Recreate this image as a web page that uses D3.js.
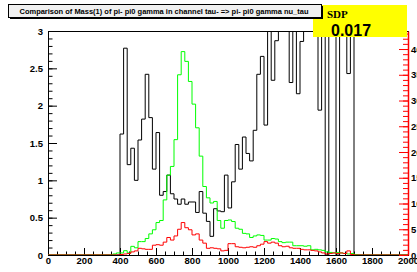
<!DOCTYPE html>
<html>
<head>
<meta charset="utf-8">
<script src="https://cdn.jsdelivr.net/npm/d3@7"></script>
<style>
  body { margin: 0; background: #fff; }
  svg { display: block; font-family: "Liberation Sans", Arial, sans-serif; }
  .ax text { font-size: 9.5px; font-weight: bold; fill: #000; }
</style>
</head>
<body>
<div id="chart"></div>
<script>
// bins are 20 wide, first listed bin starts at 360
const binStart = 360;
const binWidth = 20;

// black histogram (left axis, clipped at 3)
const blackValues = [0, 0,
  1.62, 2.77, 1.21, 1.43, 1.0, 1.54, 1.82, 2.42, 1.84, 1.15,
  1.64, 0.80, 0.85, 1.07, 0.82, 0.75, 0.68, 0.75, 0.68, 0.71,
  0.71, 0.57, 0.85, 0.56, 0.45, 0.25, 0.62, 0.59, 0.58, 1.07,
  0.63, 0.98, 1.48, 1.15, 1.58, 1.36, 1.26, 1.67, 2.42, 2.66,
  1.74, 3.8, 2.34, 2.87, 4.1, 3.6, 4.4, 2.31, 3.9, 2.16,
  2.86, 4.2, 3.7, 4.5, 3.4, 1.94, 3.8, 0, 4.3, 3.6,
  0, 4.0, 3.5, 2.43, 4.6, 0];

// green histogram (right axis)
const greenValues = [0.2, 0.4,
  0.4, 0.84, 0.4, 1.68, 1.4, 2.6, 2.6, 3.2, 4.1, 4.9,
  6.3, 6.7, 10.7, 15.5, 17.2, 22.4, 35.0, 39.5, 37.6, 33.7,
  29.3, 24.7, 19.2, 13.3, 11.1, 10.1, 10.4, 6.7, 5.2, 6.7,
  6.8, 6.5, 5.2, 5.0, 4.2, 4.1, 3.4, 3.7, 3.9, 3.8,
  2.9, 2.9, 3.2, 3.1, 2.6, 2.4, 2.5, 2.5, 1.8, 1.8,
  1.8, 1.7, 1.8, 1.0, 1.1, 1.0, 0.9, 0.6, 0.5, 0.4,
  0.5, 0.4, 0.3, 0.2, 0.3, 0.1, 0];

// red histogram (right axis)
const redValues = [0, 0,
  0.1, 0.2, 0.3, 0.6, 0.8, 1.3, 1.2, 1.1, 1.1, 1.9,
  2.0, 1.9, 2.5, 3.4, 2.9, 3.7, 5.0, 6.3, 5.3, 4.9,
  3.9, 4.1, 2.9, 2.3, 1.3, 1.4, 1.3, 1.2, 0.8, 0.9,
  2.2, 2.2, 1.6, 1.5, 1.4, 1.5, 1.6, 1.5, 1.8, 2.1,
  2.6, 2.3, 2.5, 2.3, 1.8, 1.6, 1.7, 1.4, 1.3, 1.3,
  1.1, 1.0, 1.0, 0.9, 0.8, 0.6, 0.4, 0.2, 0.3, 0.4,
  0.3, 0.4, 0.3, 0.8, 0.1, 0];

const xTicks = [0, 200, 400, 600, 800, 1000, 1200, 1400, 1600, 1800, 2000];
const yLeftTicks = [0, 0.5, 1, 1.5, 2, 2.5, 3];
const yRightTicks = [0, 5, 10, 15, 20, 25, 30, 35, 40];

const titleText = "Comparison of Mass(1) of pi- pi0 gamma in channel tau- => pi- pi0 gamma nu_tau";
const statLabel = "SDP";
const statValue = "0.017";

const W = 417, H = 272;
const margin = { top: 31, right: 9, bottom: 17, left: 48 };

const svg = d3.select("#chart").append("svg").attr("width", W).attr("height", H);

const x = d3.scaleLinear().domain([0, 2000]).range([margin.left, W - margin.right]);
const yL = d3.scaleLinear().domain([0, 3]).range([H - margin.bottom, margin.top]);
const yR = d3.scaleLinear().domain([0, 43.5]).range([H - margin.bottom, margin.top]);

svg.append("clipPath").attr("id", "frame")
  .append("rect")
  .attr("x", x(0)).attr("y", yL(3))
  .attr("width", x(2000) - x(0)).attr("height", yL(0) - yL(3));

// left axis, minor then major
svg.append("g").attr("class", "ax")
  .attr("transform", `translate(${x(0)},0)`)
  .call(d3.axisLeft(yL).tickValues(d3.range(0, 3.01, 0.1)).tickSizeInner(-4.5).tickSizeOuter(0).tickFormat(""))
  .call(g => g.select(".domain").remove());
svg.append("g").attr("class", "ax")
  .attr("transform", `translate(${x(0)},0)`)
  .call(d3.axisLeft(yL).tickValues(yLeftTicks).tickSizeInner(-9).tickSizeOuter(0).tickPadding(5).tickFormat(d3.format("")))
  .call(g => g.select(".domain").remove());

// bottom axis
svg.append("g").attr("class", "ax")
  .attr("transform", `translate(0,${yL(0)})`)
  .call(d3.axisBottom(x).tickValues(d3.range(0, 2001, 50)).tickSizeInner(-3.5).tickSizeOuter(0).tickFormat(""))
  .call(g => g.select(".domain").remove());
svg.append("g").attr("class", "ax")
  .attr("transform", `translate(0,${yL(0)})`)
  .call(d3.axisBottom(x).tickValues(xTicks).tickSizeInner(-7).tickSizeOuter(0).tickPadding(2).tickFormat(d3.format("d")))
  .call(g => g.select(".domain").remove());

// frame
svg.append("rect")
  .attr("x", x(0) + 0.5).attr("y", yL(3) + 0.5)
  .attr("width", x(2000) - x(0)).attr("height", yL(0) - yL(3))
  .attr("fill", "none").attr("stroke", "#000");

function histPoints(values) {
  const pts = [[0, 0], [binStart, 0]];
  values.forEach((v, i) => {
    const lo = binStart + i * binWidth;
    pts.push([lo, v], [lo + binWidth, v]);
  });
  const end = binStart + values.length * binWidth;
  pts.push([end, 0], [2000, 0]);
  return pts;
}

const plot = svg.append("g").attr("clip-path", "url(#frame)");

plot.append("path")
  .attr("d", d3.line().x(d => x(d[0])).y(d => yL(d[1]))(histPoints(blackValues)))
  .attr("fill", "none").attr("stroke", "#000").attr("stroke-width", 1);

plot.append("path")
  .attr("d", d3.line().x(d => x(d[0])).y(d => yR(d[1]))(histPoints(greenValues)))
  .attr("fill", "none").attr("stroke", "#00ff00").attr("stroke-width", 1);

plot.append("path")
  .attr("d", d3.line().x(d => x(d[0])).y(d => yR(d[1]))(histPoints(redValues)))
  .attr("fill", "none").attr("stroke", "#ff0000").attr("stroke-width", 1);

// right red axis
const right = svg.append("g").attr("class", "ax")
  .attr("transform", `translate(${x(2000)},0)`);
right.call(d3.axisRight(yR).tickValues(d3.range(0, 43.5, 1)).tickSizeInner(-5).tickSizeOuter(0).tickFormat(""));
right.append("g")
  .call(d3.axisRight(yR).tickValues(yRightTicks).tickSizeInner(-9).tickSizeOuter(0).tickPadding(3))
  .call(g => g.select(".domain").remove());
right.selectAll("line, .domain").attr("stroke", "#ff0000");
right.select(".domain").attr("stroke-width", 1.5);

// stat box
svg.append("rect")
  .attr("x", 313).attr("y", 5).attr("width", 94).attr("height", 32)
  .attr("fill", "#ffff00");
svg.append("text")
  .attr("x", 327).attr("y", 17.5)
  .style("font-family", "'Liberation Serif', 'Times New Roman', serif")
  .style("font-weight", "bold").style("font-size", "11px")
  .text(statLabel);
svg.append("text")
  .attr("x", 331).attr("y", 35.5)
  .style("font-weight", "bold").style("font-size", "16px")
  .text(statValue);

// title box with shadow
svg.append("rect").attr("x", 10).attr("y", 6).attr("width", 313).attr("height", 13).attr("fill", "#000");
svg.append("rect").attr("x", 8.5).attr("y", 4.5).attr("width", 313).attr("height", 13)
  .attr("fill", "#f0f0f0").attr("stroke", "#000");
svg.append("text")
  .attr("x", 164).attr("y", 14)
  .attr("text-anchor", "middle")
  .attr("textLength", 289).attr("lengthAdjust", "spacingAndGlyphs")
  .style("font-size", "7.8px").style("font-weight", "bold")
  .text(titleText);
</script>
</body>
</html>
